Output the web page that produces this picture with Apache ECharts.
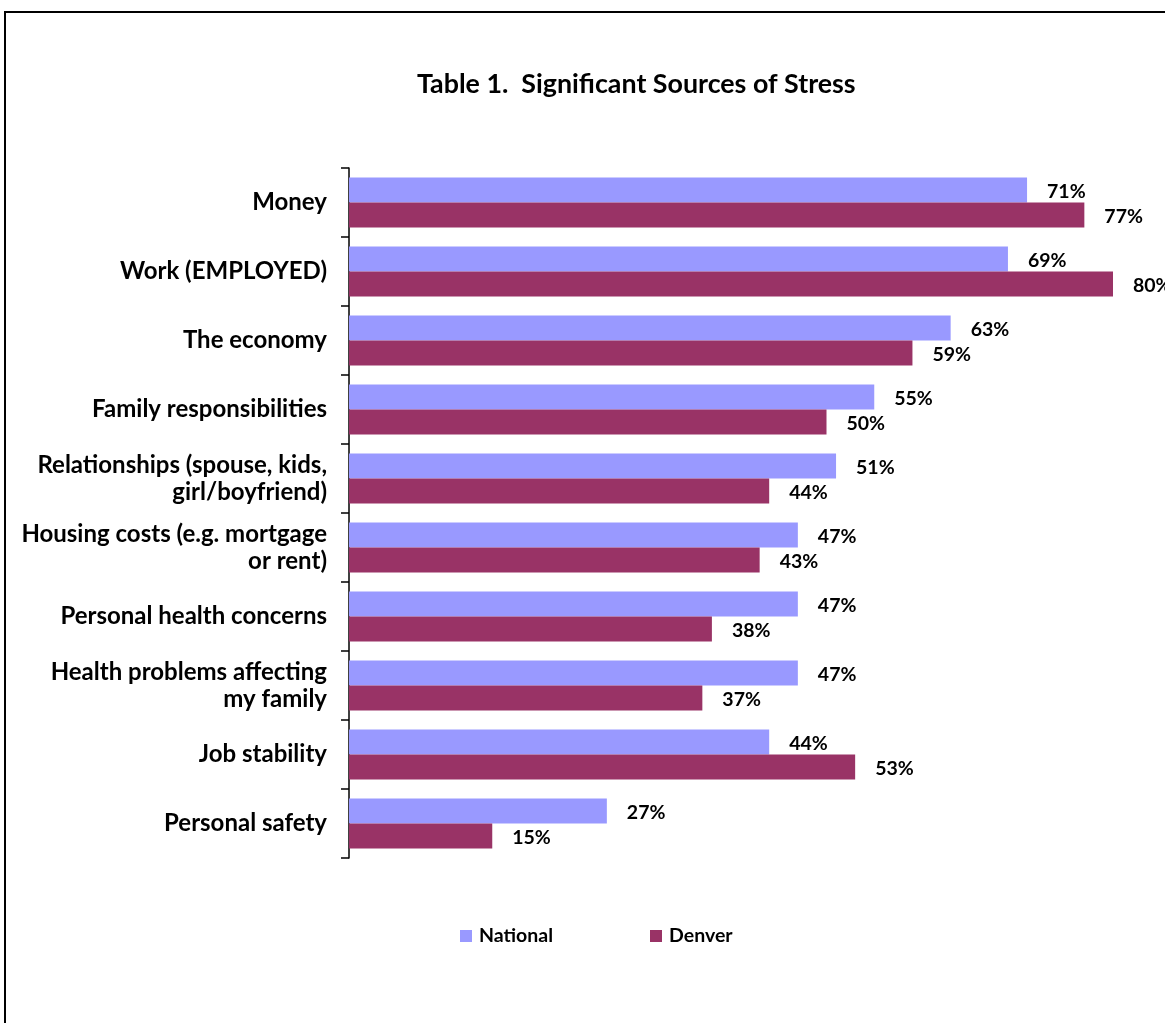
<!DOCTYPE html>
<html>
<head>
<meta charset="utf-8">
<title>Significant Sources of Stress</title>
<script src="https://cdn.jsdelivr.net/npm/echarts@6/dist/echarts.min.js"></script>
<style>
  html, body { margin: 0; padding: 0; background: #fff; }
  #chart { width: 1165px; height: 1023px; }
</style>
</head>
<body>
<div id="chart"></div>
<script>
// Survey categories, top to bottom
const categories = [
  'Money',
  'Work (EMPLOYED)',
  'The economy',
  'Family responsibilities',
  'Relationships (spouse, kids,\ngirl/boyfriend)',
  'Housing costs (e.g. mortgage\nor rent)',
  'Personal health concerns',
  'Health problems affecting\nmy family',
  'Job stability',
  'Personal safety'
];

// Share of respondents citing each source (%)
const nationalValues = [71, 69, 63, 55, 51, 47, 47, 47, 44, 27];
const denverValues   = [77, 80, 59, 50, 44, 43, 38, 37, 53, 15];

const seriesNames = ['National', 'Denver'];

const FONT = 'Lato, "Open Sans", sans-serif';

const chart = echarts.init(document.getElementById('chart'), null, { renderer: 'canvas' });

const valueLabel = {
  show: true,
  position: 'right',
  distance: 20,
  offset: [0, 2],
  formatter: p => p.value + '%',
  fontFamily: FONT,
  fontWeight: 'bold',
  fontSize: 19.5,
  color: '#000'
};

chart.setOption({
  backgroundColor: '#fff',
  animation: false,
  title: {
    text: 'Table 1.  Significant Sources of Stress',
    left: 412,
    top: 66,
    textStyle: { fontFamily: FONT, fontWeight: 'bold', fontSize: 26.8, color: '#000' }
  },
  graphic: [{
    type: 'rect',
    shape: { x: 5, y: 12, width: 1300, height: 1200 },
    style: { fill: 'none', stroke: '#000', lineWidth: 2 },
    silent: true,
    z: 100
  }],
  legend: {
    data: seriesNames,
    top: 921,
    left: 455,
    itemWidth: 12,
    itemHeight: 12,
    itemGap: 97,
    icon: 'rect',
    textStyle: { fontFamily: FONT, fontWeight: 'bold', fontSize: 19.5, color: '#000', padding: [0, 0, 0, 2] }
  },
  grid: { left: 349, top: 168, width: 764, height: 690, containLabel: false },
  xAxis: {
    type: 'value',
    min: 0,
    max: 80,
    show: false
  },
  yAxis: {
    type: 'category',
    data: categories,
    inverse: true,
    axisLine: { show: true, lineStyle: { color: '#000', width: 1.5 } },
    axisTick: { show: true, inside: false, length: 8, lineStyle: { color: '#000', width: 1.5 } },
    axisLabel: {
      margin: 22,
      fontFamily: FONT,
      fontWeight: 'bold',
      fontSize: 24,
      lineHeight: 27,
      color: '#000',
      align: 'right'
    },
    splitLine: { show: false }
  },
  series: [
    {
      name: seriesNames[0],
      type: 'bar',
      data: nationalValues,
      barWidth: 25,
      barGap: '0%',
      itemStyle: { color: '#9999FF' },
      label: valueLabel
    },
    {
      name: seriesNames[1],
      type: 'bar',
      data: denverValues,
      barWidth: 25,
      barGap: '0%',
      itemStyle: { color: '#993366' },
      label: valueLabel
    }
  ]
});
</script>
</body>
</html>
